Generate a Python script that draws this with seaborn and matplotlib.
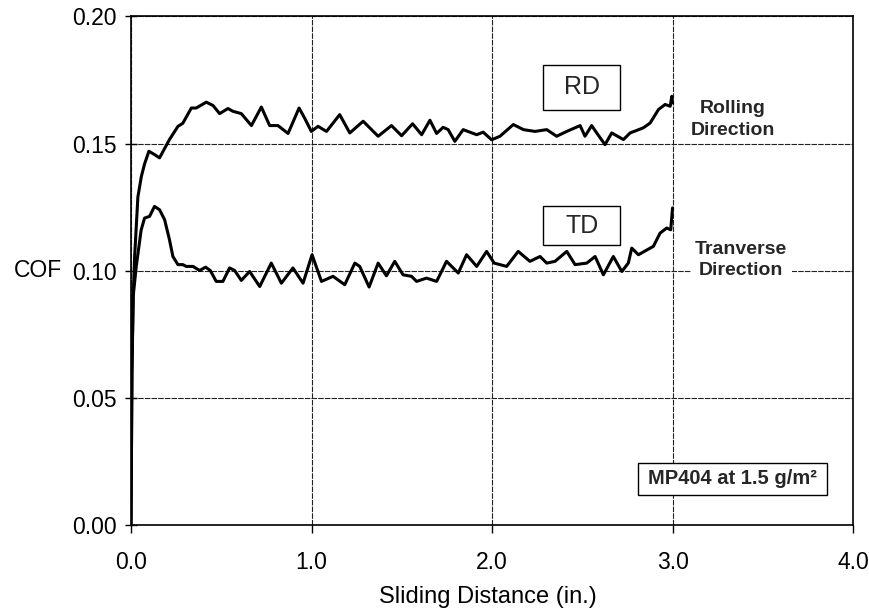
import matplotlib
matplotlib.use("Agg")
import matplotlib.pyplot as plt
from matplotlib.patches import Rectangle
from matplotlib.ticker import FixedLocator, FuncFormatter
import seaborn as sns
import pandas as pd

# Friction coefficient traces, rolling direction (RD) and transverse direction (TD)
rd_distance = [0.0, 0.005, 0.012, 0.02, 0.038, 0.057, 0.075, 0.099, 0.13, 0.158,
               0.213, 0.26, 0.287, 0.334, 0.361, 0.417, 0.454, 0.491, 0.537, 0.565,
               0.611, 0.667, 0.722, 0.768, 0.814, 0.87, 0.931, 0.962, 0.999, 1.036,
               1.083, 1.156, 1.212, 1.286, 1.369, 1.443, 1.499, 1.56, 1.61, 1.656,
               1.693, 1.729, 1.757, 1.794, 1.84, 1.915, 1.951, 1.998, 2.044, 2.118,
               2.174, 2.238, 2.303, 2.358, 2.414, 2.488, 2.515, 2.552, 2.58, 2.626,
               2.663, 2.728, 2.765, 2.838, 2.876, 2.922, 2.959, 2.987, 2.996, 3.0]
rd_cof = [0.0, 0.06, 0.09, 0.1056, 0.129, 0.137, 0.142, 0.147, 0.1457, 0.1444,
          0.1516, 0.1568, 0.158, 0.164, 0.164, 0.1663, 0.165, 0.1618, 0.1638, 0.1627,
          0.1618, 0.1571, 0.1644, 0.1571, 0.1571, 0.154, 0.164, 0.160, 0.1548, 0.1568,
          0.1548, 0.1614, 0.1542, 0.1588, 0.1529, 0.1571, 0.1531, 0.1578, 0.1535, 0.1592,
          0.154, 0.1564, 0.1555, 0.1509, 0.1555, 0.1535, 0.1545, 0.1515, 0.1529, 0.1575,
          0.1555, 0.1548, 0.1555, 0.1529, 0.1548, 0.1571, 0.1529, 0.1571, 0.1542, 0.1496,
          0.1542, 0.1516, 0.1542, 0.1562, 0.1581, 0.1634, 0.1654, 0.1647, 0.1686, 0.166]

td_distance = [0.0, 0.005, 0.012, 0.029, 0.056, 0.075, 0.103, 0.13, 0.158, 0.186,
               0.213, 0.232, 0.26, 0.287, 0.306, 0.343, 0.38, 0.413, 0.439, 0.472,
               0.509, 0.546, 0.574, 0.611, 0.657, 0.713, 0.777, 0.833, 0.897, 0.953,
               1.003, 1.055, 1.119, 1.184, 1.24, 1.267, 1.319, 1.369, 1.415, 1.461,
               1.507, 1.554, 1.582, 1.637, 1.693, 1.748, 1.813, 1.859, 1.915, 1.97,
               2.012, 2.081, 2.145, 2.21, 2.266, 2.303, 2.349, 2.414, 2.46, 2.525,
               2.571, 2.617, 2.672, 2.719, 2.755, 2.774, 2.811, 2.894, 2.931, 2.968,
               2.99, 3.0]
td_cof = [0.0, 0.06, 0.09, 0.1017, 0.116, 0.1207, 0.1214, 0.1253, 0.124, 0.1201,
          0.1122, 0.1056, 0.1024, 0.1024, 0.1017, 0.1017, 0.1001, 0.1014, 0.1001, 0.0958,
          0.0958, 0.1011, 0.1001, 0.0962, 0.0997, 0.0938, 0.103, 0.0951, 0.1011, 0.0951,
          0.1063, 0.0958, 0.0978, 0.0945, 0.103, 0.1017, 0.0936, 0.103, 0.098, 0.1037,
          0.0984, 0.0978, 0.0958, 0.0971, 0.0958, 0.1037, 0.0991, 0.1063, 0.1017, 0.1076,
          0.103, 0.1017, 0.1076, 0.1037, 0.1056, 0.103, 0.1037, 0.1076, 0.1024, 0.103,
          0.1056, 0.0984, 0.1056, 0.0997, 0.103, 0.1089, 0.1063, 0.1096, 0.1148, 0.1168,
          0.1161, 0.1247]

x_ticks = [0.0, 1.0, 2.0, 3.0, 4.0]
y_ticks = [0.00, 0.05, 0.10, 0.15, 0.20]

sns.set_theme(style="white")
plt.rcParams["font.family"] = ["Liberation Sans", "DejaVu Sans"]

df = pd.concat([
    pd.DataFrame({"distance": rd_distance, "cof": rd_cof, "dir": "RD"}),
    pd.DataFrame({"distance": td_distance, "cof": td_cof, "dir": "TD"}),
])

fig = plt.figure(figsize=(8.7, 6.11), dpi=100)
ax = fig.add_axes([0.1506, 0.1408, 0.8299, 0.8322])

sns.lineplot(data=df, x="distance", y="cof", units="dir", estimator=None,
             color="black", linewidth=2.2, ax=ax, legend=False, zorder=3)

ax.set_xlim(0, 4)
ax.set_ylim(0, 0.20)
ax.xaxis.set_major_locator(FixedLocator(x_ticks))
ax.yaxis.set_major_locator(FixedLocator(y_ticks))
ax.xaxis.set_major_formatter(FuncFormatter(lambda v, p: f"{v:.1f}"))
ax.yaxis.set_major_formatter(FuncFormatter(lambda v, p: f"{v:.2f}"))

ax.grid(True, color="#222222", linewidth=0.8, linestyle=(0, (5, 1)))
for s in ax.spines.values():
    s.set_visible(True)
    s.set_color("black")
    s.set_linewidth(1.2)

ax.tick_params(axis="x", direction="out", length=6, width=1, pad=13,
               labelsize=16.5, colors="black", bottom=True)
ax.tick_params(axis="y", direction="inout", length=9, width=1, pad=6,
               labelsize=16.5, colors="black", left=True)

ax.set_xlabel("Sliding Distance (in.)", fontsize=17, color="black")
ax.xaxis.label.set_va("center")
ax.xaxis.set_label_coords(0.494, -0.1415)
ax.set_ylabel("COF", fontsize=16.5, color="black", rotation=0, ha="center", va="center")
ax.yaxis.set_label_coords(-0.129, 0.5)

# Series tag boxes
for x0, y0, w, h, tag in [(2.284, 0.1634, 0.425, 0.0177, "RD"),
                          (2.284, 0.1102, 0.425, 0.0151, "TD")]:
    ax.add_patch(Rectangle((x0, y0), w, h, facecolor="white", edgecolor="black",
                           linewidth=1.0, zorder=4))
    ax.text(x0 + w / 2, y0 + h / 2, tag, ha="center", va="center",
            fontsize=18, zorder=5)

# Direction captions that interrupt the grid lines
ax.text(3.336, 0.1595, "Rolling\nDirection", ha="center", va="center",
        fontsize=14, fontweight="bold", linespacing=1.4, zorder=4,
        bbox=dict(facecolor="white", edgecolor="none", pad=3))
ax.text(3.381, 0.1043, "Tranverse\nDirection", ha="center", va="center",
        fontsize=14, fontweight="bold", linespacing=1.3, zorder=4,
        bbox=dict(facecolor="white", edgecolor="none", pad=3))

# Test condition note
ax.add_patch(Rectangle((2.809, 0.0118), 1.048, 0.0126, facecolor="white",
                       edgecolor="black", linewidth=1.0, zorder=4))
ax.text(3.333, 0.0181, "MP404 at 1.5 g/m²", ha="center", va="center",
        fontsize=14.5, fontweight="bold", zorder=5)

fig.savefig("out.png", dpi=100)
